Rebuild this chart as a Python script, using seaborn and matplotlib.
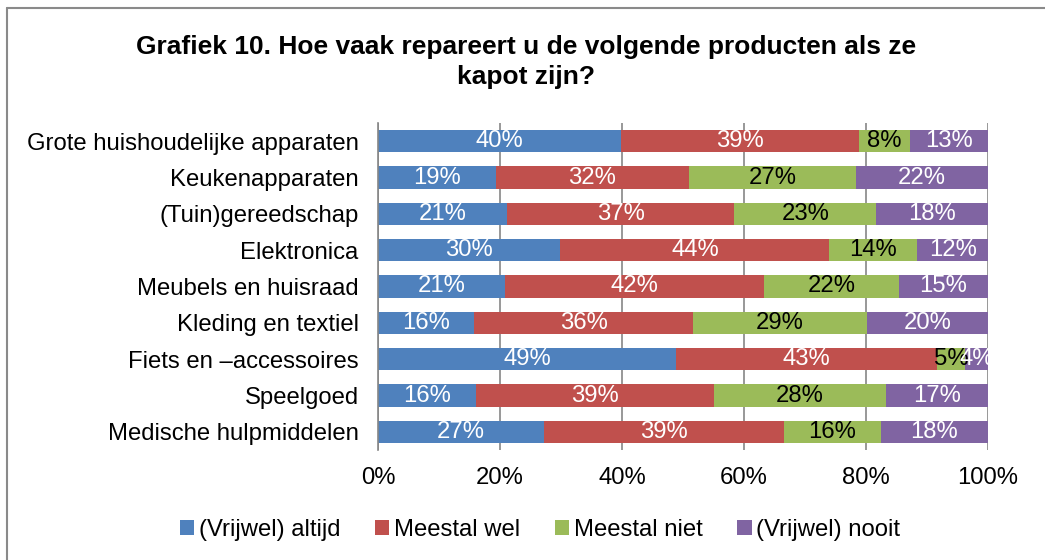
import pandas as pd
import numpy as np
from matplotlib import pyplot as plt
from matplotlib.patches import Patch
from matplotlib.lines import Line2D
import seaborn as sns

categories = ["Grote huishoudelijke apparaten", "Keukenapparaten", "(Tuin)gereedschap",
              "Elektronica", "Meubels en huisraad", "Kleding en textiel",
              "Fiets en \u2013accessoires", "Speelgoed", "Medische hulpmiddelen"]
series = ["(Vrijwel) altijd", "Meestal wel", "Meestal niet", "(Vrijwel) nooit"]
altijd = [39.8, 19.3, 21.2, 29.9, 20.9, 15.8, 48.9, 16.0, 27.2]
meestal_wel = [39.0, 31.7, 37.2, 44.1, 42.4, 35.8, 42.8, 39.0, 39.4]
meestal_niet = [8.4, 27.4, 23.3, 14.4, 22.1, 28.6, 4.6, 28.3, 15.8]
nooit = [12.8, 21.6, 18.3, 11.6, 14.6, 19.8, 3.7, 16.7, 17.6]
colors = ["#4F81BD", "#C0504D", "#9BBB59", "#8064A2"]
label_colors = ["white", "white", "black", "white"]

data = pd.DataFrame({"Product": categories, series[0]: altijd, series[1]: meestal_wel,
                     series[2]: meestal_niet, series[3]: nooit})
cum = data[series].cumsum(axis=1)

sns.set_style("white")
plt.rcParams['font.family'] = ['Liberation Sans', 'DejaVu Sans']
plt.rcParams['text.color'] = 'black'
plt.rcParams['xtick.labelcolor'] = 'black'
plt.rcParams['ytick.labelcolor'] = 'black'
fs = 17.2

fig = plt.figure(figsize=(10.45, 5.6), dpi=100)
ax = fig.add_axes([378 / 1045, 1 - 450 / 560, 610 / 1045, 327 / 560])

# stacked bars: draw cumulative totals, largest first
for i in range(len(series) - 1, -1, -1):
    sns.barplot(x=cum[series[i]], y=data["Product"], order=categories, orient="h",
                color=colors[i], saturation=1, width=0.62, linewidth=0, ax=ax)

# data labels in segment centres
for i, s in enumerate(series):
    for j, v in enumerate(data[s]):
        xc = cum[s][j] - v / 2
        ax.text(xc, j, f"{v:.0f}%", ha="center", va="center", fontsize=fs,
                color=label_colors[i])

ax.set_xlim(0, 100)
ax.set_ylim(8.5, -0.5)
ax.set_xticks([0, 20, 40, 60, 80, 100])
ax.set_xticklabels(["0%", "20%", "40%", "60%", "80%", "100%"])
ax.set_yticks(np.arange(-0.5, 9, 1), minor=True)
ax.grid(axis="x", color="#868686", linewidth=1.2)
ax.set_axisbelow(True)
ax.tick_params(axis="x", length=0, pad=12, labelsize=fs)
ax.tick_params(axis="y", which="major", length=0, pad=14, labelsize=fs)
ax.tick_params(axis="y", which="minor", length=6, width=1.2, color="#868686", direction="out")
ax.set_xlabel("")
ax.set_ylabel("")
for side in ["top", "right", "bottom"]:
    ax.spines[side].set_visible(False)
ax.spines["left"].set_color("#868686")
ax.spines["left"].set_linewidth(1.2)

fig.text(526 / 1045, 1 - 62 / 560, "Grafiek 10. Hoe vaak repareert u de volgende producten als ze\nkapot zijn?",
         ha="center", va="center", fontsize=19, fontweight="bold", linespacing=1.35)

handles = [Patch(facecolor=c, edgecolor="none") for c in colors]
fig.legend(handles, series, loc="center", bbox_to_anchor=(540 / 1045, 1 - 530 / 560), ncol=4,
           frameon=False, fontsize=fs, handlelength=0.6, handleheight=0.6,
           handletextpad=0.2, columnspacing=1.45)

# chart border (cropped on right and bottom)
fig.add_artist(Line2D([7 / 1045, 7 / 1045], [0, 1 - 8 / 560], color="#8a8a8a", linewidth=1.5))
fig.add_artist(Line2D([7 / 1045, 1], [1 - 8 / 560, 1 - 8 / 560], color="#8a8a8a", linewidth=1.5))

fig.savefig("out.png", dpi=100)
